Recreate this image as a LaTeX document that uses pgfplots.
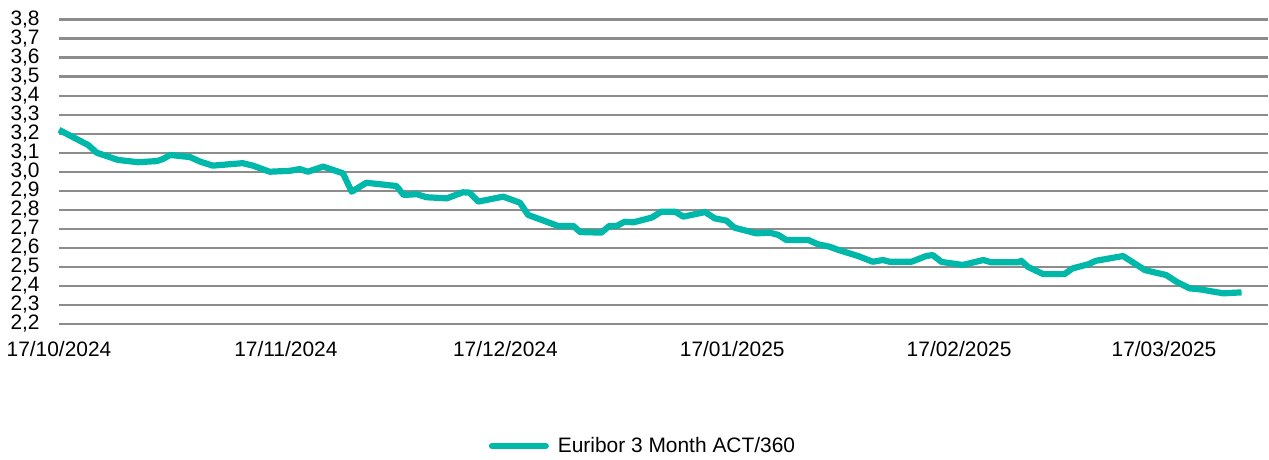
\documentclass[border=0pt]{standalone}
\usepackage{pgfplots}
\pgfplotsset{compat=1.18}
\usepackage{fontspec}
\setmainfont{Liberation Sans}
\definecolor{eurteal}{HTML}{00B8AA}
\definecolor{gridgray}{HTML}{8C8C8C}
\begin{document}
\begin{tikzpicture}
\begin{axis}[
  scale only axis,
  width=604.5bp, height=152.25bp,
  xmin=0, xmax=165.2,
  ymin=2.2, ymax=3.8,
  ytick={2.2,2.3,...,3.81},
  xtick={0,31,61,92,123,151},
  xticklabels={17/10/2024,17/11/2024,17/12/2024,17/01/2025,17/02/2025,17/03/2025},
  axis line style={draw=none},
  major tick length=0pt,
  ymajorgrids,
  grid style={gridgray, line width=1.1bp},
  /pgf/number format/assume math mode=true,
  /pgf/number format/.cd, fixed, fixed zerofill, precision=1, use comma,
  /pgfplots/.cd,
  tick label style={font=\fontsize{10.5}{11}\selectfont},
  yticklabel style={anchor=east, inner sep=0pt, xshift=-9.5bp},
  xticklabel style={anchor=north, inner sep=0pt, yshift=-8.5bp},
  legend style={at={(0.4839,-0.4007)}, anchor=center, draw=none, fill=none,
    font=\fontsize{10.5}{12}\selectfont, inner sep=0pt,
    /tikz/every even column/.append style={column sep=0pt}},
  legend cell align=left,
  legend image code/.code={\draw[#1, line width=3bp, line cap=round] (0bp,0bp) -- (27bp,0bp);},
  clip=false,
]
\addplot[eurteal, line width=3.1bp, line join=round] coordinates {
(0,3.22) (4.0,3.14) (5.15,3.10) (8.06,3.062) (10.8,3.05) (13.4,3.056) (14.2,3.067)
(15.2,3.088) (17.9,3.077) (19.3,3.053) (21.0,3.032) (25.1,3.045) (26.5,3.032)
(28.8,3.0) (31.6,3.005) (32.9,3.014) (34.0,3.0) (36.1,3.027) (38.8,2.992)
(40.0,2.895) (42.0,2.942) (46.1,2.925) (47.1,2.878) (48.9,2.882) (50.2,2.866)
(53.0,2.86) (55.2,2.892) (56.1,2.89) (57.3,2.843) (60.7,2.869) (63.0,2.837)
(64.1,2.773) (68.2,2.715) (70.3,2.715) (71.2,2.683) (74.1,2.68) (75.2,2.715)
(76.2,2.715) (77.3,2.737) (78.5,2.734) (81.0,2.759) (82.3,2.79) (84.2,2.79)
(85.3,2.764) (88.3,2.788) (89.6,2.755) (91.2,2.743) (92.3,2.706) (95.3,2.676)
(97.1,2.68) (98.3,2.668) (99.4,2.641) (102.4,2.641) (103.7,2.619) (105.3,2.606)
(106.5,2.589) (109.2,2.557) (111.2,2.527) (112.6,2.536) (113.5,2.527) (116.5,2.527)
(118.5,2.557) (119.4,2.562) (120.6,2.526) (123.5,2.51) (126.3,2.536) (127.4,2.524)
(131.1,2.524) (131.5,2.532) (132.4,2.50) (134.5,2.462) (137.4,2.462) (138.5,2.492)
(140.6,2.513) (141.7,2.532) (145.4,2.557) (148.4,2.483) (151.3,2.457) (152.7,2.422)
(154.5,2.387) (155.9,2.382) (159.1,2.361) (161.6,2.366)
};
\addlegendentry{\hspace{2.5bp}Euribor 3 Month ACT/360}
\end{axis}
\path[use as bounding box] ([xshift=-29.5bp,yshift=-66.5bp]current axis.south west) rectangle ([xshift=0.5bp,yshift=9.75bp]current axis.north east);
\end{tikzpicture}
\end{document}
